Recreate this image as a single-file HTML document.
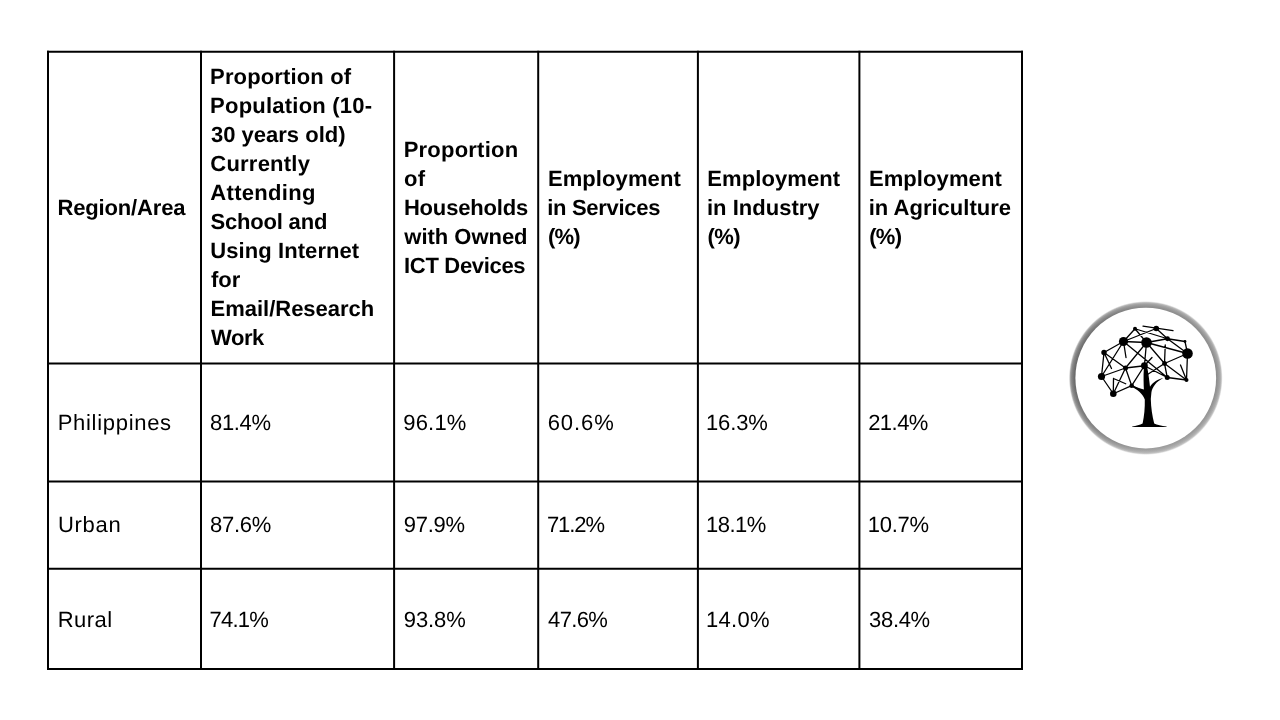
<!DOCTYPE html>
<html lang="en">
<head>
<meta charset="utf-8">
<meta name="viewport" content="width=1280, initial-scale=1">
<title>Internet use, ICT ownership and employment by area</title>
<style>
html,body{margin:0;padding:0;background:#fff}
body{position:relative;width:1280px;height:720px;overflow:hidden;font-family:"Liberation Sans",Arial,Helvetica,sans-serif;color:#000}
.stage{position:absolute;left:0;top:0;width:1280px;height:720px;background:#fff;overflow:hidden}
.grid{position:absolute;left:0;top:0;width:1280px;height:720px;display:block}
.tbl,.row,.cell{position:absolute;left:0;top:0;margin:0;padding:0}
.ln{position:absolute;display:block;white-space:nowrap;line-height:29px;height:29px;font-size:22px;font-weight:400;font-kerning:normal;text-rendering:geometricPrecision}
.head .ln{font-size:22px;font-weight:700}
.ln.lab{font-size:22px}
.logo{position:absolute;left:1056px;top:288px;width:180px;height:180px;display:block}

</style>
</head>
<body>
<div class="stage">
<svg class="grid" width="1280" height="720" viewBox="0 0 1280 720" aria-hidden="true">
<g stroke="#000" stroke-width="2" fill="none" stroke-linecap="square">
<line x1="48" y1="51.65" x2="48" y2="669"/>
<line x1="201" y1="51.65" x2="201" y2="669"/>
<line x1="394.1" y1="51.65" x2="394.1" y2="669"/>
<line x1="538.2" y1="51.65" x2="538.2" y2="669"/>
<line x1="697.9" y1="51.65" x2="697.9" y2="669"/>
<line x1="859.4" y1="51.65" x2="859.4" y2="669"/>
<line x1="1022" y1="51.65" x2="1022" y2="669"/>
<line x1="48" y1="51.65" x2="1022" y2="51.65"/>
<line x1="48" y1="363.5" x2="1022" y2="363.5"/>
<line x1="48" y1="481.5" x2="1022" y2="481.5"/>
<line x1="48" y1="568.75" x2="1022" y2="568.75"/>
<line x1="48" y1="669" x2="1022" y2="669"/>
</g></svg>
<div class="tbl" role="table">
<div class="row head" role="row">
<div class="cell" role="columnheader">
<span class="ln" style="left:57.55px;top:193px;letter-spacing:-0.17px">Region/Area</span>
</div>
<div class="cell" role="columnheader">
<span class="ln" style="left:210.12px;top:62px;letter-spacing:0.14px">Proportion of</span>
<span class="ln" style="left:210.12px;top:91px;letter-spacing:0.22px">Population (10-</span>
<span class="ln" style="left:210.95px;top:120px;letter-spacing:0.01px">30 years old)</span>
<span class="ln" style="left:210.27px;top:149px;letter-spacing:0.23px">Currently</span>
<span class="ln" style="left:210.36px;top:178px;letter-spacing:0.3px">Attending</span>
<span class="ln" style="left:210.49px;top:207px;letter-spacing:-0.19px">School and</span>
<span class="ln" style="left:210.35px;top:236px;letter-spacing:0.07px">Using Internet</span>
<span class="ln" style="left:211.12px;top:265px;letter-spacing:-0.08px">for</span>
<span class="ln" style="left:210.5px;top:294px;letter-spacing:-0.01px">Email/Research</span>
<span class="ln" style="left:210.98px;top:323px;letter-spacing:-0.42px">Work</span>
</div>
<div class="cell" role="columnheader">
<span class="ln" style="left:403.69px;top:135px;letter-spacing:0.22px">Proportion</span>
<span class="ln" style="left:403.89px;top:164px;letter-spacing:0.34px">of</span>
<span class="ln" style="left:403.91px;top:193px;letter-spacing:-0.18px">Households</span>
<span class="ln" style="left:404.3px;top:222px;letter-spacing:-0.02px">with Owned</span>
<span class="ln" style="left:404.08px;top:251px;letter-spacing:-0.32px">ICT Devices</span>
</div>
<div class="cell" role="columnheader">
<span class="ln" style="left:547.91px;top:164px;letter-spacing:0.09px">Employment</span>
<span class="ln" style="left:547.2px;top:193px;letter-spacing:-0.29px">in Services</span>
<span class="ln" style="left:548.03px;top:222px;letter-spacing:-0.79px">(%)</span>
</div>
<div class="cell" role="columnheader">
<span class="ln" style="left:707.35px;top:164px;letter-spacing:0.09px">Employment</span>
<span class="ln" style="left:706.92px;top:193px;letter-spacing:0.02px">in Industry</span>
<span class="ln" style="left:707.47px;top:222px;letter-spacing:-0.6px">(%)</span>
</div>
<div class="cell" role="columnheader">
<span class="ln" style="left:868.91px;top:164px;letter-spacing:0.09px">Employment</span>
<span class="ln" style="left:868.71px;top:193px;letter-spacing:0.01px">in Agriculture</span>
<span class="ln" style="left:869.26px;top:222px;letter-spacing:-0.75px">(%)</span>
</div>
</div>
<div class="row body" role="row">
<div class="cell" role="cell">
<span class="ln lab" style="left:57.69px;top:408px;letter-spacing:0.7px">Philippines</span>
</div>
<div class="cell" role="cell">
<span class="ln" style="left:210.1px;top:408px;letter-spacing:-0.37px">81.4%</span>
</div>
<div class="cell" role="cell">
<span class="ln" style="left:403.31px;top:408px;letter-spacing:0.17px">96.1%</span>
</div>
<div class="cell" role="cell">
<span class="ln" style="left:547.64px;top:408px;letter-spacing:0.96px">60.6%</span>
</div>
<div class="cell" role="cell">
<span class="ln" style="left:706.01px;top:408px;letter-spacing:-0.13px">16.3%</span>
</div>
<div class="cell" role="cell">
<span class="ln" style="left:868.16px;top:408px;letter-spacing:-0.53px">21.4%</span>
</div>
</div>
<div class="row body" role="row">
<div class="cell" role="cell">
<span class="ln lab" style="left:57.88px;top:510px;letter-spacing:0.73px">Urban</span>
</div>
<div class="cell" role="cell">
<span class="ln" style="left:210.07px;top:510px;letter-spacing:-0.26px">87.6%</span>
</div>
<div class="cell" role="cell">
<span class="ln" style="left:403.75px;top:510px;letter-spacing:-0.25px">97.9%</span>
</div>
<div class="cell" role="cell">
<span class="ln" style="left:546.93px;top:510px;letter-spacing:-1.06px">71.2%</span>
</div>
<div class="cell" role="cell">
<span class="ln" style="left:706.01px;top:510px;letter-spacing:-0.5px">18.1%</span>
</div>
<div class="cell" role="cell">
<span class="ln" style="left:867.74px;top:510px;letter-spacing:-0.29px">10.7%</span>
</div>
</div>
<div class="row body" role="row">
<div class="cell" role="cell">
<span class="ln lab" style="left:57.69px;top:605px;letter-spacing:0.49px">Rural</span>
</div>
<div class="cell" role="cell">
<span class="ln" style="left:209.49px;top:605px;letter-spacing:-0.74px">74.1%</span>
</div>
<div class="cell" role="cell">
<span class="ln" style="left:403.75px;top:605px;letter-spacing:-0.07px">93.8%</span>
</div>
<div class="cell" role="cell">
<span class="ln" style="left:548.11px;top:605px;letter-spacing:-0.67px">47.6%</span>
</div>
<div class="cell" role="cell">
<span class="ln" style="left:706.01px;top:605px;letter-spacing:0.32px">14.0%</span>
</div>
<div class="cell" role="cell">
<span class="ln" style="left:869.08px;top:605px;letter-spacing:-0.33px">38.4%</span>
</div>
</div>
</div>
<svg class="logo" width="180" height="180" viewBox="1056 288 180 180" role="img" aria-label="Network tree logo">
<defs>
<radialGradient id="ring" gradientUnits="userSpaceOnUse" cx="1145.75" cy="378.05" r="77"><stop offset="0.9" stop-color="#5e5e5e"/><stop offset="0.935" stop-color="#707070"/><stop offset="0.964" stop-color="#888"/><stop offset="0.98" stop-color="#a6a6a6"/><stop offset="0.992" stop-color="#e6e6e6"/><stop offset="1" stop-color="#fff"/></radialGradient>
<radialGradient id="sheen" gradientUnits="userSpaceOnUse" cx="1069" cy="376" r="156"><stop offset="0" stop-color="#fff" stop-opacity="0"/><stop offset="0.3" stop-color="#fff" stop-opacity="0.06"/><stop offset="0.66" stop-color="#fff" stop-opacity="0.24"/><stop offset="1" stop-color="#fff" stop-opacity="0.26"/></radialGradient>
<linearGradient id="sheen2" x1="0" y1="0" x2="0" y2="1"><stop offset="0.55" stop-color="#fff" stop-opacity="0"/><stop offset="1" stop-color="#fff" stop-opacity="0.16"/></linearGradient>
</defs>
<circle cx="1145.75" cy="378.05" r="77" fill="url(#ring)"/>
<circle cx="1145.75" cy="378.05" r="77" fill="url(#sheen)"/>
<circle cx="1145.75" cy="378.05" r="77" fill="url(#sheen2)"/>
<circle cx="1145.75" cy="378.05" r="70.35" fill="#fff"/>
<path d="M1135 328.75L1123.5 341.5M1135 328.75L1146.5 342.5M1135 328.75L1167.5 338.75M1143 326.2L1173 330.6M1123.5 341.5L1156.25 328.5M1156.25 328.5L1167.5 338.75M1167.5 338.75L1187.5 353.5M1146.5 342.5L1167.5 338.75M1167.5 338.75L1185 341.5M1185 341.5L1187.5 353.5M1146.5 342.5L1187.5 353.5M1123.5 341.5L1146.5 342.5M1123.5 341.5L1104 352.5M1123.5 341.5L1101.5 376.5M1123.5 341.5L1126 357.5M1123.5 341.5L1167.25 377.5M1146.5 342.5L1125.5 368M1146.5 342.5L1144.4 365.75M1146.5 342.5L1164.5 363.5M1164.5 363.5L1165.25 345M1164.5 363.5L1187.5 353.5M1164.5 363.5L1167.25 377.5M1164.5 363.5L1186.5 380M1164.5 363.5L1147.5 374.5M1187.5 353.5L1186.5 380M1186.5 380L1180.5 365M1167.25 377.5L1186.5 380M1144.4 365.75L1167.25 377.5M1144.4 365.75L1152 357.5M1104 352.5L1101.5 376.5M1104 352.5L1125.5 368M1104 352.5L1111.5 368.5M1101.5 376.5L1125.5 368M1101.5 376.5L1113.3 393.75M1125.5 368L1144.4 365.75M1125.5 368L1131.7 385.7M1125.5 368L1113.3 393.75M1144.4 365.75L1131.7 385.7M1113.3 393.75L1131.7 385.7M1113.3 393.75L1113.5 378.5M1113.5 378.5L1125.7 383.75M1131.7 385.7L1144 392" fill="none" stroke="#000" stroke-width="1.3" stroke-linecap="round"/>
<circle cx="1135" cy="328.75" r="2" fill="#000"/>
<circle cx="1156.25" cy="328.5" r="2.8" fill="#000"/>
<circle cx="1123.5" cy="341.5" r="4.6" fill="#000"/>
<circle cx="1146.5" cy="342.5" r="5.3" fill="#000"/>
<circle cx="1167.5" cy="338.75" r="2.4" fill="#000"/>
<circle cx="1185" cy="341.5" r="1.4" fill="#000"/>
<circle cx="1187.5" cy="353.5" r="5.3" fill="#000"/>
<circle cx="1104" cy="352.5" r="2.7" fill="#000"/>
<circle cx="1101.5" cy="376.5" r="3.6" fill="#000"/>
<circle cx="1113.3" cy="393.75" r="3.3" fill="#000"/>
<circle cx="1125.5" cy="368" r="2.5" fill="#000"/>
<circle cx="1144.4" cy="365.75" r="3.4" fill="#000"/>
<circle cx="1164.5" cy="363.5" r="2.4" fill="#000"/>
<circle cx="1167.25" cy="377.5" r="2.5" fill="#000"/>
<circle cx="1186.5" cy="380" r="2" fill="#000"/>
<circle cx="1131.7" cy="385.7" r="2.3" fill="#000"/>
<path d="M1144.4 364 C1143.4 370 1143.5 378 1143.7 386 L1143.9 389.6 C1140.5 388.6 1136 387 1132 385.2 L1131.6 386.6 C1137 389.5 1142.5 393.5 1144.8 399.5 C1145 408 1144.2 416 1142.6 423.6 C1140 425.2 1136 425.9 1132.2 426.4 L1132.2 426.9 L1166.6 426.9 L1166.6 426.4 C1161.5 425.9 1157 425.2 1154.2 423.6 C1152.3 416 1151 408 1150.8 399 L1151.4 392.5 C1152.2 387.2 1156.5 381.2 1163.2 378.3 C1158 379 1153 382 1150 386.8 C1149.3 380 1148.2 372 1146.6 364 Z" fill="#000"/>
</svg>
</div>
</body>
</html>
